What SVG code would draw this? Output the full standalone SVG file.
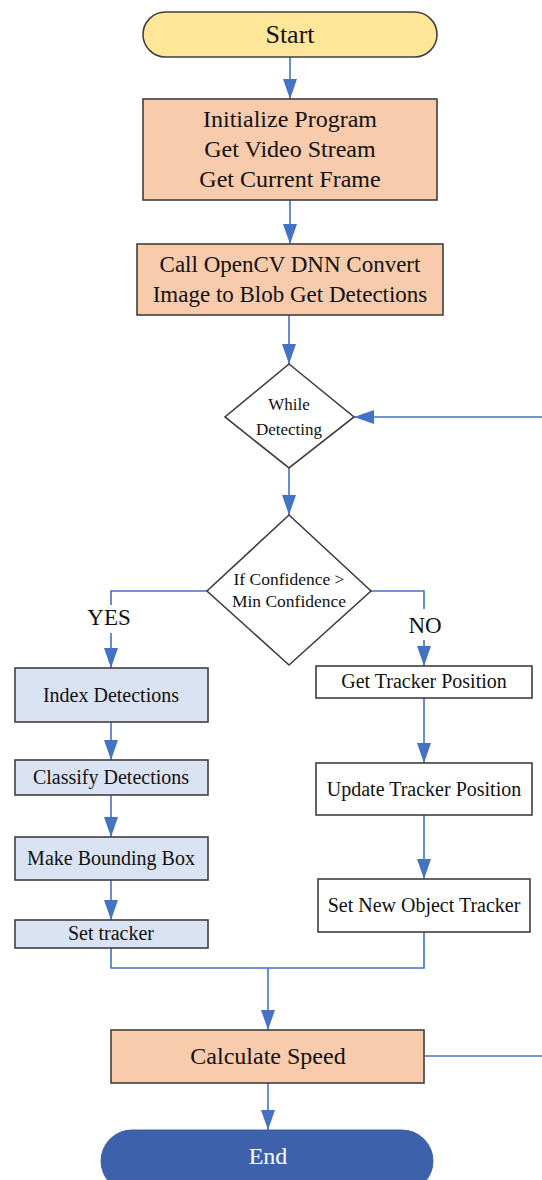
<svg xmlns="http://www.w3.org/2000/svg" width="542" height="1180" viewBox="0 0 542 1180">
  <style>
    .node { stroke: #3f3f3f; stroke-width: 1.6; }
    .term { fill: #ffe699; }
    .proc { fill: #f8cbad; }
    .yes { fill: #dae3f3; }
    .no { fill: #ffffff; }
    .endf { fill: #3d62ab; stroke: #3d62ab; }
    .t { font-family: 'Liberation Serif', 'DejaVu Serif', serif; fill: #111111; text-anchor: middle; }
    .w { fill: #ffffff; }
    .edge { fill: none; stroke: #4472c4; stroke-width: 1.6; }
  </style>
  <defs>
    <marker id="arrowR" markerUnits="userSpaceOnUse" markerWidth="20" markerHeight="14" refX="20" refY="7" orient="auto" viewBox="0 0 20 14">
      <path d="M0 0 L20 7 L0 14 Z" fill="#4472c4"/>
    </marker>
  </defs>

  <!-- connectors -->
  <g id="connectors">
    <path class="edge" d="M290 57 V99" marker-end="url(#arrowR)"/>
    <path class="edge" d="M290 200 V244" marker-end="url(#arrowR)"/>
    <path class="edge" d="M289 315 V364" marker-end="url(#arrowR)"/>
    <path class="edge" d="M542 417 H354" marker-end="url(#arrowR)"/>
    <path class="edge" d="M289 468 V515" stroke-width="2.6" marker-end="url(#arrowR)"/>
    <path class="edge" d="M207 591 H111 V605"/>
    <path class="edge" d="M111 633 V668" marker-end="url(#arrowR)"/>
    <path class="edge" d="M371 591 H424 V609"/>
    <path class="edge" d="M424 640 V666" marker-end="url(#arrowR)"/>
    <path class="edge" d="M111 722 V760" marker-end="url(#arrowR)"/>
    <path class="edge" d="M111 795 V837" marker-end="url(#arrowR)"/>
    <path class="edge" d="M111 880 V920" marker-end="url(#arrowR)"/>
    <path class="edge" d="M424 698 V763" marker-end="url(#arrowR)"/>
    <path class="edge" d="M424 815 V879" marker-end="url(#arrowR)"/>
    <path class="edge" d="M111 948 V968 H424 V932"/>
    <path class="edge" d="M268 968 V1030" marker-end="url(#arrowR)"/>
    <path class="edge" d="M268 1083 V1130" marker-end="url(#arrowR)"/>
    <path class="edge" d="M424 1056 H542"/>
    <text class="t" x="109" y="625" font-size="23">YES</text>
    <text class="t" x="425" y="633" font-size="23">NO</text>
  </g>

  <g id="start">
    <rect class="node term" x="143" y="12" width="294" height="45" rx="22.5"/>
    <text class="t" x="290" y="43" font-size="26">Start</text>
  </g>

  <g id="init">
    <rect class="node proc" x="143" y="99" width="294" height="101"/>
    <text class="t" x="290" y="127" font-size="24">Initialize Program</text>
    <text class="t" x="290" y="157" font-size="24">Get Video Stream</text>
    <text class="t" x="290" y="187" font-size="24">Get Current Frame</text>
  </g>

  <g id="dnn">
    <rect class="node proc" x="137" y="244" width="306" height="71"/>
    <text class="t" x="290" y="272" font-size="23">Call OpenCV DNN Convert</text>
    <text class="t" x="290" y="302" font-size="23">Image to Blob Get Detections</text>
  </g>

  <g id="while">
    <polygon class="node no" points="289,364 354,417 289,468 225,417"/>
    <text class="t" x="289" y="410" font-size="17">While</text>
    <text class="t" x="289" y="435" font-size="17">Detecting</text>
  </g>

  <g id="confidence">
    <polygon class="node no" points="289,515 371,591 289,665 207,591"/>
    <text class="t" x="289" y="585" font-size="17.5">If Confidence &gt;</text>
    <text class="t" x="289" y="607" font-size="17.5">Min Confidence</text>
  </g>

  <g id="index">
    <rect class="node yes" x="15" y="668" width="193" height="54"/>
    <text class="t" x="111" y="702" font-size="20">Index Detections</text>
  </g>

  <g id="classify">
    <rect class="node yes" x="15" y="760" width="193" height="35"/>
    <text class="t" x="111" y="784" font-size="20">Classify Detections</text>
  </g>

  <g id="bbox">
    <rect class="node yes" x="15" y="837" width="193" height="43"/>
    <text class="t" x="111" y="865" font-size="20">Make Bounding Box</text>
  </g>

  <g id="settracker">
    <rect class="node yes" x="15" y="920" width="193" height="28"/>
    <text class="t" x="111" y="940" font-size="20">Set tracker</text>
  </g>

  <g id="getpos">
    <rect class="node no" x="316" y="666" width="216" height="32"/>
    <text class="t" x="424" y="688" font-size="20">Get Tracker Position</text>
  </g>

  <g id="updatepos">
    <rect class="node no" x="316" y="763" width="216" height="52"/>
    <text class="t" x="424" y="796" font-size="20">Update Tracker Position</text>
  </g>

  <g id="newtracker">
    <rect class="node no" x="318" y="879" width="212" height="53"/>
    <text class="t" x="424" y="912" font-size="20">Set New Object Tracker</text>
  </g>

  <g id="speed">
    <rect class="node proc" x="111" y="1030" width="313" height="53"/>
    <text class="t" x="268" y="1064" font-size="24">Calculate Speed</text>
  </g>

  <g id="end">
    <rect class="endf" x="101" y="1130" width="332" height="62" rx="31"/>
    <text class="t w" x="268" y="1164" font-size="24">End</text>
  </g>
</svg>
